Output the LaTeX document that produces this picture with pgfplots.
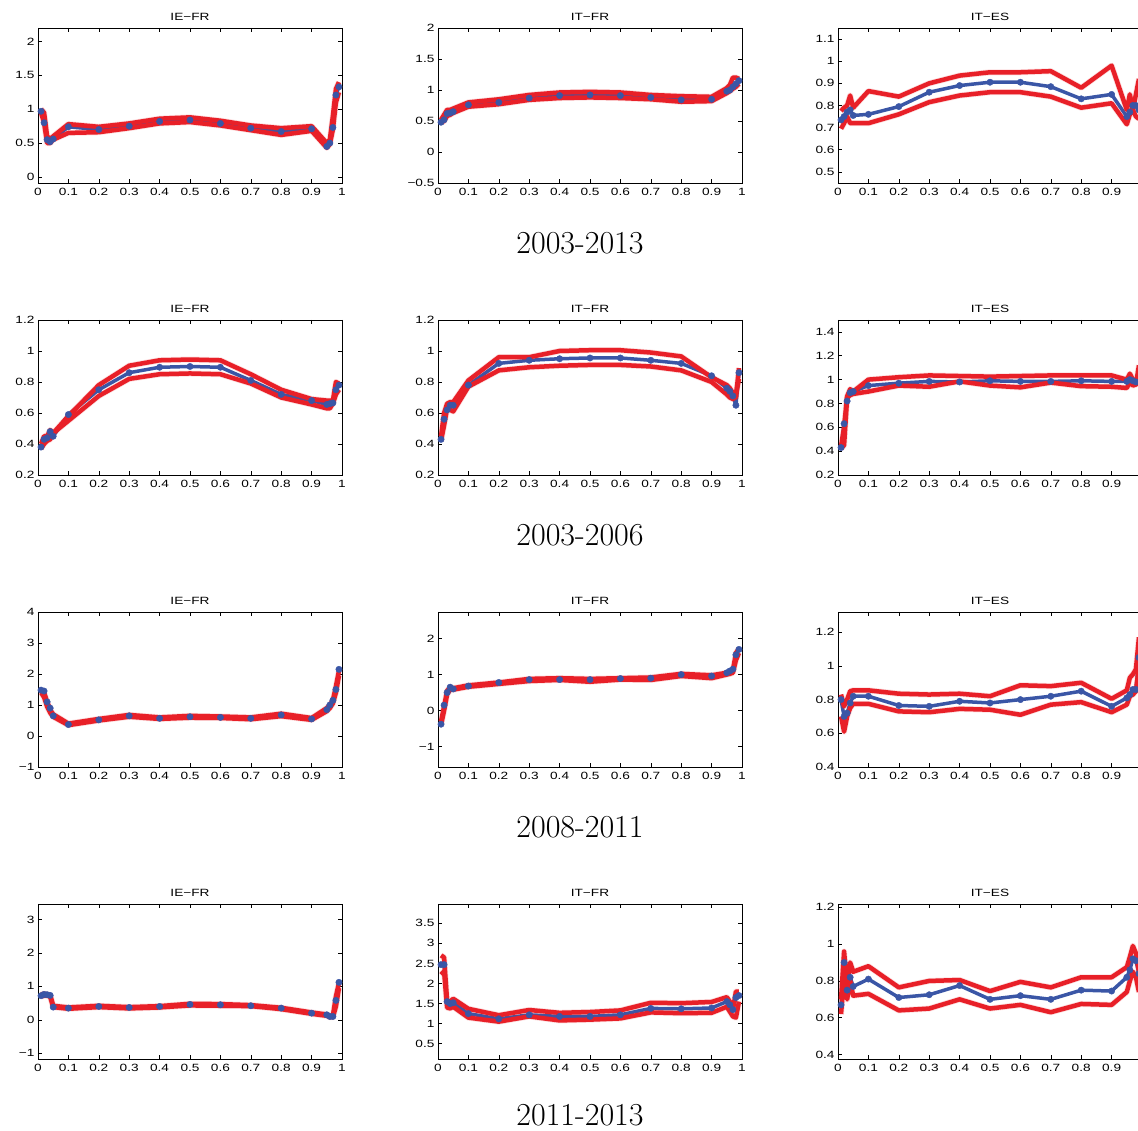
\documentclass[border=0pt]{standalone}
\usepackage{pgfplots}
\usepackage{pgfplotstable}
\usepackage{fontspec}
\pgfplotsset{compat=1.18}
\newfontfamily\axfont[FakeStretch=1.3]{Liberation Sans}
\definecolor{myred}{RGB}{232,32,40}
\definecolor{myblue}{RGB}{58,86,166}

\pgfplotstableread{
x b u l
0.01 0.97 1.00 0.95
0.02 0.80 0.95 0.80
0.03 0.55 0.60 0.50
0.04 0.52 0.56 0.50
0.05 0.56 0.60 0.55
0.10 0.74 0.78 0.65
0.20 0.70 0.74 0.66
0.30 0.75 0.79 0.72
0.40 0.82 0.86 0.79
0.50 0.84 0.88 0.81
0.60 0.79 0.83 0.76
0.70 0.72 0.76 0.69
0.80 0.67 0.72 0.62
0.90 0.71 0.75 0.68
0.95 0.45 0.50 0.43
0.96 0.50 0.55 0.48
0.97 0.73 0.90 0.70
0.98 1.21 1.30 1.10
0.99 1.33 1.40 1.25
}\tA
\pgfplotstableread{
x b u l
0.01 0.48 0.52 0.47
0.02 0.52 0.60 0.50
0.03 0.62 0.68 0.58
0.04 0.63 0.68 0.60
0.05 0.65 0.70 0.63
0.10 0.76 0.80 0.73
0.20 0.80 0.85 0.77
0.30 0.87 0.92 0.84
0.40 0.91 0.96 0.87
0.50 0.92 0.97 0.88
0.60 0.91 0.96 0.87
0.70 0.88 0.92 0.85
0.80 0.84 0.90 0.81
0.90 0.85 0.89 0.82
0.95 0.98 1.03 0.95
0.96 1.00 1.08 0.98
0.97 1.05 1.20 1.02
0.98 1.10 1.20 1.05
0.99 1.15 1.18 1.10
}\tB
\pgfplotstableread{
x b u l
0.01 0.735 0.775 0.695
0.02 0.750 0.790 0.720
0.03 0.770 0.800 0.750
0.04 0.780 0.845 0.720
0.05 0.755 0.790 0.720
0.10 0.760 0.865 0.720
0.20 0.795 0.840 0.760
0.30 0.860 0.900 0.815
0.40 0.890 0.935 0.845
0.50 0.905 0.950 0.860
0.60 0.905 0.950 0.860
0.70 0.885 0.955 0.840
0.80 0.830 0.880 0.790
0.90 0.850 0.980 0.810
0.95 0.750 0.780 0.715
0.96 0.770 0.850 0.760
0.97 0.800 0.780 0.780
0.98 0.800 0.850 0.750
0.99 0.780 0.920 0.740
}\tC
\pgfplotstableread{
x b u l
0.01 0.38 0.40 0.37
0.02 0.43 0.45 0.40
0.03 0.44 0.45 0.42
0.04 0.48 0.49 0.43
0.05 0.45 0.47 0.47
0.10 0.59 0.58 0.55
0.20 0.75 0.78 0.71
0.30 0.86 0.905 0.82
0.40 0.895 0.94 0.85
0.50 0.90 0.945 0.855
0.60 0.895 0.94 0.85
0.70 0.81 0.85 0.79
0.80 0.72 0.75 0.70
0.90 0.68 0.69 0.655
0.95 0.655 0.68 0.63
0.96 0.66 0.68 0.63
0.97 0.665 0.68 0.66
0.98 0.75 0.80 0.72
0.99 0.78 0.79 0.75
}\tD
\pgfplotstableread{
x b u l
0.01 0.43 0.45 0.42
0.02 0.56 0.60 0.52
0.03 0.62 0.66 0.63
0.04 0.65 0.67 0.62
0.05 0.65 0.67 0.61
0.10 0.78 0.81 0.77
0.20 0.92 0.96 0.875
0.30 0.94 0.96 0.895
0.40 0.95 1.00 0.905
0.50 0.955 1.005 0.91
0.60 0.955 1.005 0.91
0.70 0.94 0.99 0.90
0.80 0.92 0.965 0.875
0.90 0.84 0.83 0.80
0.95 0.76 0.78 0.72
0.96 0.74 0.76 0.70
0.97 0.71 0.73 0.69
0.98 0.65 0.70 0.72
0.99 0.86 0.89 0.82
}\tE
\pgfplotstableread{
x b u l
0.01 0.43 0.44 0.42
0.02 0.63 0.60 0.45
0.03 0.82 0.86 0.85
0.04 0.89 0.92 0.87
0.05 0.90 0.90 0.88
0.10 0.95 1.00 0.90
0.20 0.97 1.02 0.95
0.30 0.985 1.035 0.94
0.40 0.98 1.03 0.985
0.50 0.99 1.025 0.95
0.60 0.985 1.03 0.935
0.70 0.985 1.035 0.975
0.80 0.99 1.035 0.945
0.90 0.985 1.035 0.94
0.95 0.985 1.00 0.93
0.96 1.00 1.05 0.98
0.97 0.99 1.00 0.95
0.98 0.98 0.96 0.96
0.99 0.98 1.12 0.98
}\tF
\pgfplotstableread{
x b u l
0.01 1.48 1.50 1.40
0.02 1.45 1.40 1.25
0.03 1.10 1.10 0.95
0.04 0.90 0.85 0.75
0.05 0.65 0.70 0.62
0.10 0.37 0.40 0.35
0.20 0.52 0.55 0.50
0.30 0.65 0.68 0.62
0.40 0.57 0.60 0.55
0.50 0.62 0.65 0.59
0.60 0.60 0.63 0.58
0.70 0.57 0.60 0.54
0.80 0.68 0.72 0.64
0.90 0.55 0.58 0.52
0.95 0.85 0.90 0.80
0.96 1.00 1.00 0.90
0.97 1.15 1.15 1.05
0.98 1.50 1.60 1.40
0.99 2.15 2.10 1.95
}\tG
\pgfplotstableread{
x b u l
0.01 -0.38 -0.30 -0.40
0.02 0.15 0.10 0.00
0.03 0.50 0.55 0.45
0.04 0.65 0.65 0.58
0.05 0.60 0.62 0.58
0.10 0.68 0.70 0.66
0.20 0.78 0.78 0.74
0.30 0.86 0.88 0.82
0.40 0.86 0.90 0.85
0.50 0.86 0.88 0.80
0.60 0.89 0.90 0.86
0.70 0.90 0.92 0.85
0.80 1.00 1.02 0.96
0.90 0.96 0.98 0.90
0.95 1.05 1.05 1.00
0.96 1.10 1.08 1.02
0.97 1.15 1.10 1.05
0.98 1.55 1.60 1.40
0.99 1.70 1.72 1.60
}\tH
\pgfplotstableread{
x b u l
0.01 0.80 0.83 0.70
0.02 0.70 0.76 0.61
0.03 0.72 0.80 0.70
0.04 0.78 0.85 0.75
0.05 0.82 0.855 0.775
0.10 0.82 0.855 0.775
0.20 0.765 0.835 0.73
0.30 0.76 0.83 0.725
0.40 0.79 0.835 0.745
0.50 0.78 0.82 0.74
0.60 0.80 0.885 0.71
0.70 0.82 0.88 0.77
0.80 0.85 0.90 0.785
0.90 0.76 0.805 0.725
0.95 0.81 0.855 0.77
0.96 0.83 0.93 0.82
0.97 0.86 0.95 0.83
0.98 0.86 0.98 0.85
0.99 1.05 1.17 1.00
}\tI
\pgfplotstableread{
x b u l
0.01 0.72 0.75 0.70
0.02 0.76 0.78 0.72
0.03 0.75 0.76 0.72
0.04 0.73 0.74 0.70
0.05 0.38 0.42 0.38
0.10 0.35 0.37 0.33
0.20 0.40 0.42 0.38
0.30 0.37 0.38 0.34
0.40 0.40 0.41 0.37
0.50 0.46 0.48 0.43
0.60 0.45 0.47 0.42
0.70 0.42 0.44 0.41
0.80 0.35 0.36 0.32
0.90 0.20 0.22 0.18
0.95 0.15 0.16 0.12
0.96 0.10 0.12 0.08
0.97 0.10 0.12 0.08
0.98 0.58 0.70 0.40
0.99 1.12 1.10 0.95
}\tJ
\pgfplotstableread{
x b u l
0.01 2.47 2.70 2.22
0.02 2.47 2.65 2.30
0.03 1.55 1.55 1.40
0.04 1.50 1.55 1.38
0.05 1.52 1.62 1.42
0.10 1.25 1.37 1.15
0.20 1.12 1.21 1.05
0.30 1.22 1.34 1.18
0.40 1.18 1.27 1.08
0.50 1.18 1.29 1.10
0.60 1.22 1.33 1.13
0.70 1.38 1.52 1.28
0.80 1.37 1.51 1.26
0.90 1.39 1.54 1.27
0.95 1.55 1.66 1.42
0.96 1.47 1.55 1.30
0.97 1.35 1.35 1.18
0.98 1.65 1.80 1.15
0.99 1.70 1.80 1.55
}\tK
\pgfplotstableread{
x b u l
0.01 0.67 0.70 0.62
0.02 0.90 0.96 0.82
0.03 0.75 0.77 0.70
0.04 0.82 0.90 0.80
0.05 0.77 0.85 0.72
0.10 0.81 0.88 0.73
0.20 0.71 0.765 0.64
0.30 0.725 0.80 0.65
0.40 0.775 0.805 0.70
0.50 0.70 0.745 0.65
0.60 0.72 0.795 0.67
0.70 0.70 0.765 0.63
0.80 0.75 0.82 0.675
0.90 0.745 0.82 0.67
0.95 0.82 0.875 0.74
0.96 0.86 0.93 0.80
0.97 0.92 0.99 0.85
0.98 0.91 0.95 0.82
0.99 0.84 0.85 0.74
}\tL

\pgfplotsset{
  panel/.style={
    scale only axis, width=304pt, height=155pt,
    anchor=north west,
    xmin=0, xmax=1,
    xtick={0,0.1,0.2,0.3,0.4,0.5,0.6,0.7,0.8,0.9,1},
    xticklabels={0,0.1,0.2,0.3,0.4,0.5,0.6,0.7,0.8,0.9,1},
    tick align=inside, tick pos=both,
    major tick length=4pt,
    axis line style={line width=0.8pt, black},
    every tick/.style={line width=0.6pt, black},
    ticklabel style={font=\axfont\fontsize{10.5}{12}\selectfont},
    xticklabel style={yshift=-1.5pt},
    title style={font=\axfont\fontsize{10.5}{12}\selectfont, yshift=-2pt},
    scaled ticks=false,
  },
  rightcol/.style={xticklabels={0,0.1,0.2,0.3,0.4,0.5,0.6,0.7,0.8,0.9,{}}},
  blueline/.style={myblue, line width=3.5pt, line join=round, mark=*, mark size=3.2pt,
    mark options={solid, fill=myblue, draw=myblue, line width=0.4pt}},
  redline/.style={myred, line width=4.5pt, line join=round, no markers},
  redhalo/.style={myred, opacity=0.15, line width=6pt, line join=round, no markers},
}

\newcommand{\panel}[5]{%
\begin{axis}[panel, at={(#1pt,#2pt)}, title={#3}, #5]
\addplot[blueline] table[x=x,y=b]{#4};
\addplot[redhalo] table[x=x,y=u]{#4};
\addplot[redhalo] table[x=x,y=l]{#4};
\addplot[redline] table[x=x,y=u]{#4};
\addplot[redline] table[x=x,y=l]{#4};
\end{axis}}

\begin{document}
\begin{tikzpicture}
\useasboundingbox (0,0) rectangle (1138pt,1130pt);
% row 1
\panel{38}{1102}{IE−FR}{\tA}{ymin=-0.09, ymax=2.2, ytick={0,0.5,1,1.5,2}, yticklabels={0,0.5,1,1.5,2}}
\panel{438}{1102}{IT−FR}{\tB}{ymin=-0.5, ymax=2, ytick={-0.5,0,0.5,1,1.5,2}, yticklabels={−0.5,0,0.5,1,1.5,2}}
\panel{838}{1102}{IT−ES}{\tC}{rightcol, ymin=0.45, ymax=1.15, ytick={0.5,0.6,0.7,0.8,0.9,1,1.1}, yticklabels={0.5,0.6,0.7,0.8,0.9,1,1.1}}
% row 2
\panel{38}{810}{IE−FR}{\tD}{ymin=0.2, ymax=1.2, ytick={0.2,0.4,0.6,0.8,1,1.2}, yticklabels={0.2,0.4,0.6,0.8,1,1.2}}
\panel{438}{810}{IT−FR}{\tE}{ymin=0.2, ymax=1.2, ytick={0.2,0.4,0.6,0.8,1,1.2}, yticklabels={0.2,0.4,0.6,0.8,1,1.2}}
\panel{838}{810}{IT−ES}{\tF}{rightcol, ymin=0.2, ymax=1.5, ytick={0.2,0.4,0.6,0.8,1,1.2,1.4}, yticklabels={0.2,0.4,0.6,0.8,1,1.2,1.4}}
% row 3
\panel{38}{518}{IE−FR}{\tG}{ymin=-1, ymax=4, ytick={-1,0,1,2,3,4}, yticklabels={−1,0,1,2,3,4}}
\panel{438}{518}{IT−FR}{\tH}{ymin=-1.57, ymax=2.74, ytick={-1,0,1,2}, yticklabels={−1,0,1,2}}
\panel{838}{518}{IT−ES}{\tI}{rightcol, ymin=0.4, ymax=1.32, ytick={0.4,0.6,0.8,1,1.2}, yticklabels={0.4,0.6,0.8,1,1.2}}
% row 4
\panel{38}{226}{IE−FR}{\tJ}{ymin=-1.17, ymax=3.46, ytick={-1,0,1,2,3}, yticklabels={−1,0,1,2,3}}
\panel{438}{226}{IT−FR}{\tK}{ymin=0.12, ymax=3.98, ytick={0.5,1,1.5,2,2.5,3,3.5}, yticklabels={0.5,1,1.5,2,2.5,3,3.5}}
\panel{838}{226}{IT−ES}{\tL}{rightcol, ymin=0.376, ymax=1.218, ytick={0.4,0.6,0.8,1,1.2}, yticklabels={0.4,0.6,0.8,1,1.2}}
% period labels
\node[inner sep=0pt, font=\fontsize{32}{38}\selectfont] at (580pt,887pt) {2003-2013};
\node[inner sep=0pt, font=\fontsize{32}{38}\selectfont] at (580pt,595pt) {2003-2006};
\node[inner sep=0pt, font=\fontsize{32}{38}\selectfont] at (580pt,303pt) {2008-2011};
\node[inner sep=0pt, font=\fontsize{32}{38}\selectfont] at (580pt,15pt) {2011-2013};
\end{tikzpicture}
\end{document}
